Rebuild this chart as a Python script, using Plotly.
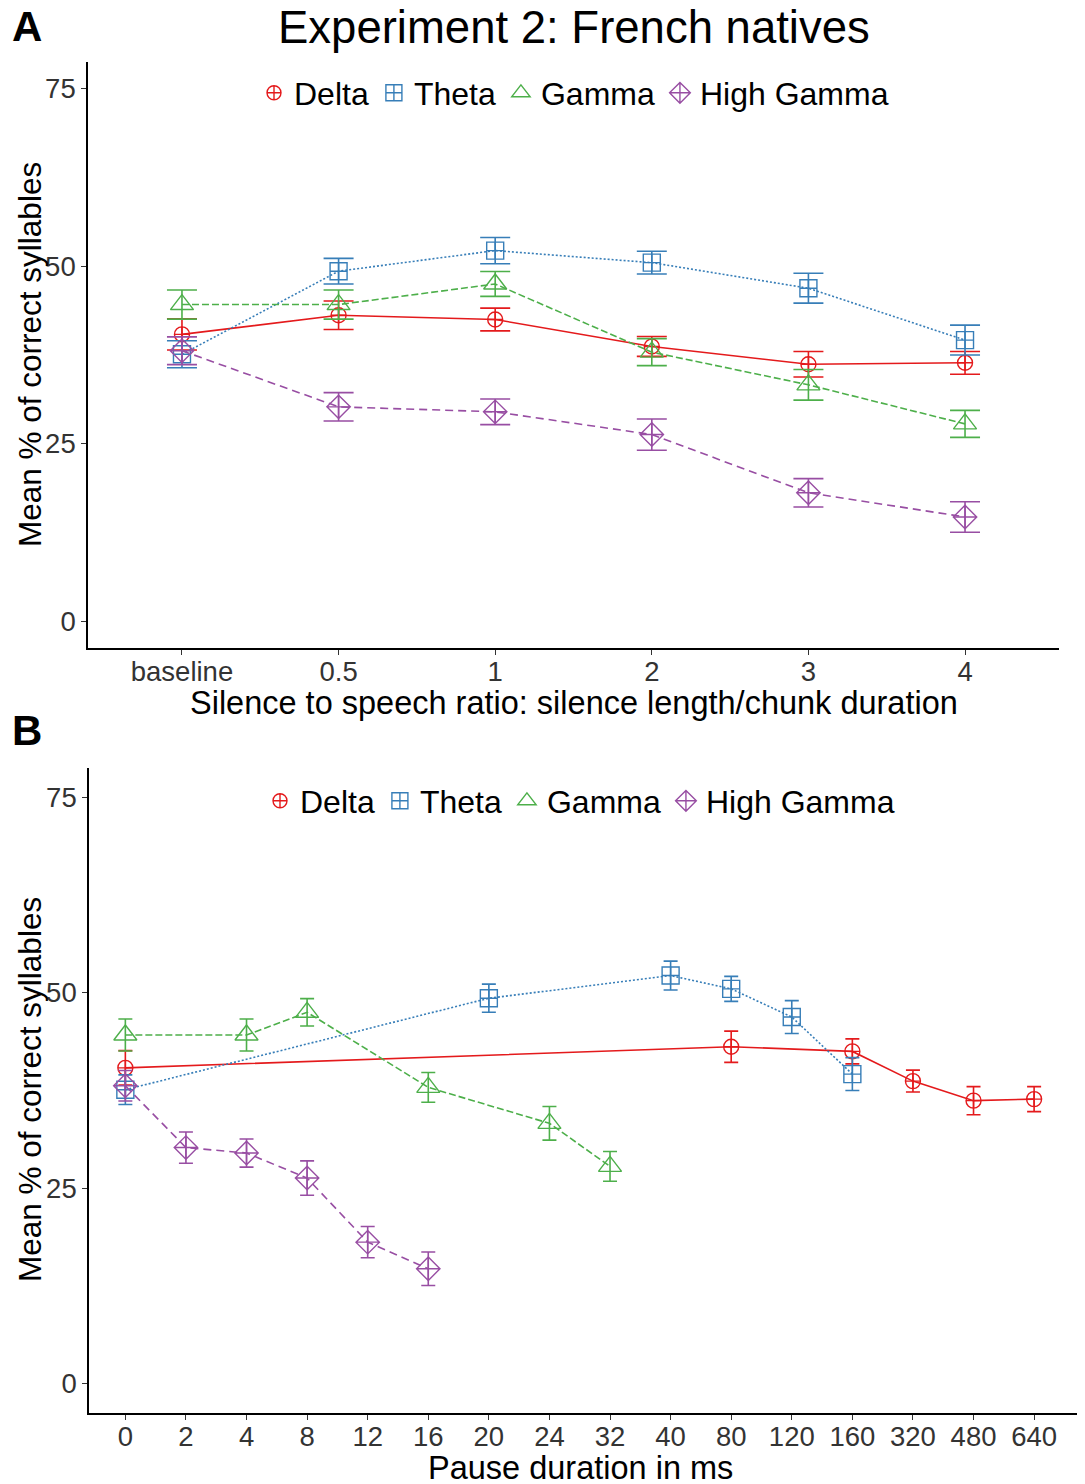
import plotly.graph_objects as go

# ---------------- data ----------------
series_names = ["Delta", "Theta", "Gamma", "High Gamma"]
ratio_labels = ["baseline", "0.5", "1", "2", "3", "4"]
pause_ticks = ["0", "2", "4", "8", "12", "16", "20", "24", "32", "40",
               "80", "120", "160", "320", "480", "640"]

delta = [40.4, 43.1, 42.5, 38.7, 36.2, 36.4]
delta_se = [2.2, 2.0, 1.6, 1.4, 1.8, 1.6]
theta = [37.6, 49.3, 52.2, 50.5, 46.9, 39.6]
theta_se = [1.9, 1.8, 1.85, 1.6, 2.1, 2.1]
gamma = [44.6, 44.6, 47.5, 37.9, 33.3, 27.8]
gamma_se = [2.05, 2.05, 1.75, 1.9, 2.15, 1.9]
high_gamma = [38.1, 30.2, 29.5, 26.3, 18.1, 14.7]
high_gamma_se = [1.95, 2.0, 1.8, 2.2, 2.0, 2.15]

# pause durations (ms) corresponding to each ratio, per band
delta_ms = ["0", "80", "160", "320", "480", "640"]
theta_ms = ["0", "20", "40", "80", "120", "160"]
gamma_ms = ["0", "4", "8", "16", "24", "32"]
high_gamma_ms = ["0", "2", "4", "8", "12", "16"]

# ---------------- styles ----------------
PAGE_OFF = 8                      # default body margin of the html page
W, H = 1085 - PAGE_OFF, 1484 - PAGE_OFF
FONT = "Liberation Sans, Arial, sans-serif"
colors = ["#E41A1C", "#377EB8", "#4DAF4A", "#984EA3"]
symbols = ["circle-cross-open", "square-cross-open", "triangle-up-open", "diamond-cross-open"]
msizes = [15, 17, 20, 18]
dashes = ["solid", "2px,2px", "7px,3px", "8px,5px"]

values = [delta, theta, gamma, high_gamma]
errors = [delta_se, theta_se, gamma_se, high_gamma_se]
ms_x = [delta_ms, theta_ms, gamma_ms, high_gamma_ms]

def px_x(p):
    return min(1.0, (p - PAGE_OFF) / W)

def px_y(p):
    return 1 - (p - PAGE_OFF) / H

fig = go.Figure()

for i, name in enumerate(series_names):
    # panel A
    fig.add_trace(go.Scatter(
        x=ratio_labels, y=values[i], mode="lines+markers", name=name,
        showlegend=False, xaxis="x", yaxis="y",
        line=dict(color=colors[i], width=1.6, dash=dashes[i]),
        marker=dict(symbol=symbols[i], size=msizes[i], color=colors[i],
                    line=dict(width=1.4, color=colors[i])),
        error_y=dict(type="data", array=errors[i], visible=True,
                     color=colors[i], thickness=1.6, width=15),
    ))
    # panel B
    fig.add_trace(go.Scatter(
        x=ms_x[i], y=values[i], mode="lines+markers", name=name,
        showlegend=False, xaxis="x2", yaxis="y2",
        line=dict(color=colors[i], width=1.6, dash=dashes[i]),
        marker=dict(symbol=symbols[i], size=msizes[i], color=colors[i],
                    line=dict(width=1.4, color=colors[i])),
        error_y=dict(type="data", array=errors[i], visible=True,
                     color=colors[i], thickness=1.6, width=7),
    ))

# legend-only traces (symbols only)
for leg, xa, ya in [("legend", "x", "y"), ("legend2", "x2", "y2")]:
    for i, name in enumerate(series_names):
        fig.add_trace(go.Scatter(
            x=[None], y=[None], mode="markers", name=name, legend=leg,
            xaxis=xa, yaxis=ya, showlegend=True,
            marker=dict(symbol=symbols[i], size=msizes[i] - 1, color=colors[i],
                        line=dict(width=1.4, color=colors[i])),
        ))

axis_common = dict(
    showline=True, linecolor="#000000", linewidth=1.6,
    ticks="outside", ticklen=5, tickwidth=1.3, tickcolor="#333333",
    showgrid=False, zeroline=False,
    tickfont=dict(family=FONT, size=27.5, color="#333333"),
)

fig.update_layout(
    width=W, height=H,
    margin=dict(l=0, r=0, t=0, b=0),
    paper_bgcolor="white", plot_bgcolor="white",
    font=dict(family=FONT, color="#000000"),
    xaxis=dict(axis_common, type="category", categoryorder="array",
               categoryarray=ratio_labels, range=[-0.6, 5.6],
               domain=[px_x(88), px_x(1059)], anchor="y",
               ticklabelstandoff=-7),
    yaxis=dict(axis_common, range=[-3.75, 78.75], tickvals=[0, 25, 50, 75],
               domain=[px_y(648), px_y(62)], anchor="x"),
    xaxis2=dict(axis_common, type="category", categoryorder="array",
                categoryarray=pause_ticks, range=[-0.6, 15.84],
                domain=[px_x(89), 1.0], anchor="y2",
                ticklabelstandoff=-7),
    yaxis2=dict(axis_common, range=[-3.75, 78.75], tickvals=[0, 25, 50, 75],
                domain=[px_y(1413), px_y(768)], anchor="x2"),
    legend=dict(orientation="h", x=px_x(574), xanchor="center",
                y=px_y(93), yanchor="middle", bgcolor="rgba(0,0,0,0)",
                font=dict(family=FONT, size=32, color="#000000"),
                itemwidth=30, tracegroupgap=0),
    legend2=dict(orientation="h", x=px_x(580), xanchor="center",
                 y=px_y(801), yanchor="middle", bgcolor="rgba(0,0,0,0)",
                 font=dict(family=FONT, size=32, color="#000000"),
                 itemwidth=30, tracegroupgap=0),
)

annotations = [
    dict(text="Experiment 2: French natives", x=px_x(574), y=px_y(28),
         font=dict(size=45.5, family=FONT, color="#000000")),
    dict(text="<b>A</b>", x=px_x(27), y=px_y(26),
         font=dict(size=42, family=FONT, color="#000000")),
    dict(text="<b>B</b>", x=px_x(27), y=px_y(731),
         font=dict(size=42, family=FONT, color="#000000")),
    dict(text="Silence to speech ratio: silence length/chunk duration",
         x=px_x(574), y=px_y(703),
         font=dict(size=32.5, family=FONT, color="#000000")),
    dict(text="Pause duration in ms", x=px_x(580), y=px_y(1468),
         font=dict(size=32.5, family=FONT, color="#000000")),
    dict(text="Mean % of correct syllables", x=px_x(30), y=px_y(355),
         textangle=-90, font=dict(size=31.5, family=FONT, color="#000000")),
    dict(text="Mean % of correct syllables", x=px_x(30), y=px_y(1090),
         textangle=-90, font=dict(size=31.5, family=FONT, color="#000000")),
]
for a in annotations:
    a.update(xref="paper", yref="paper", showarrow=False,
             xanchor="center", yanchor="middle")
fig.update_layout(annotations=annotations)

fig.write_html("out.html")
